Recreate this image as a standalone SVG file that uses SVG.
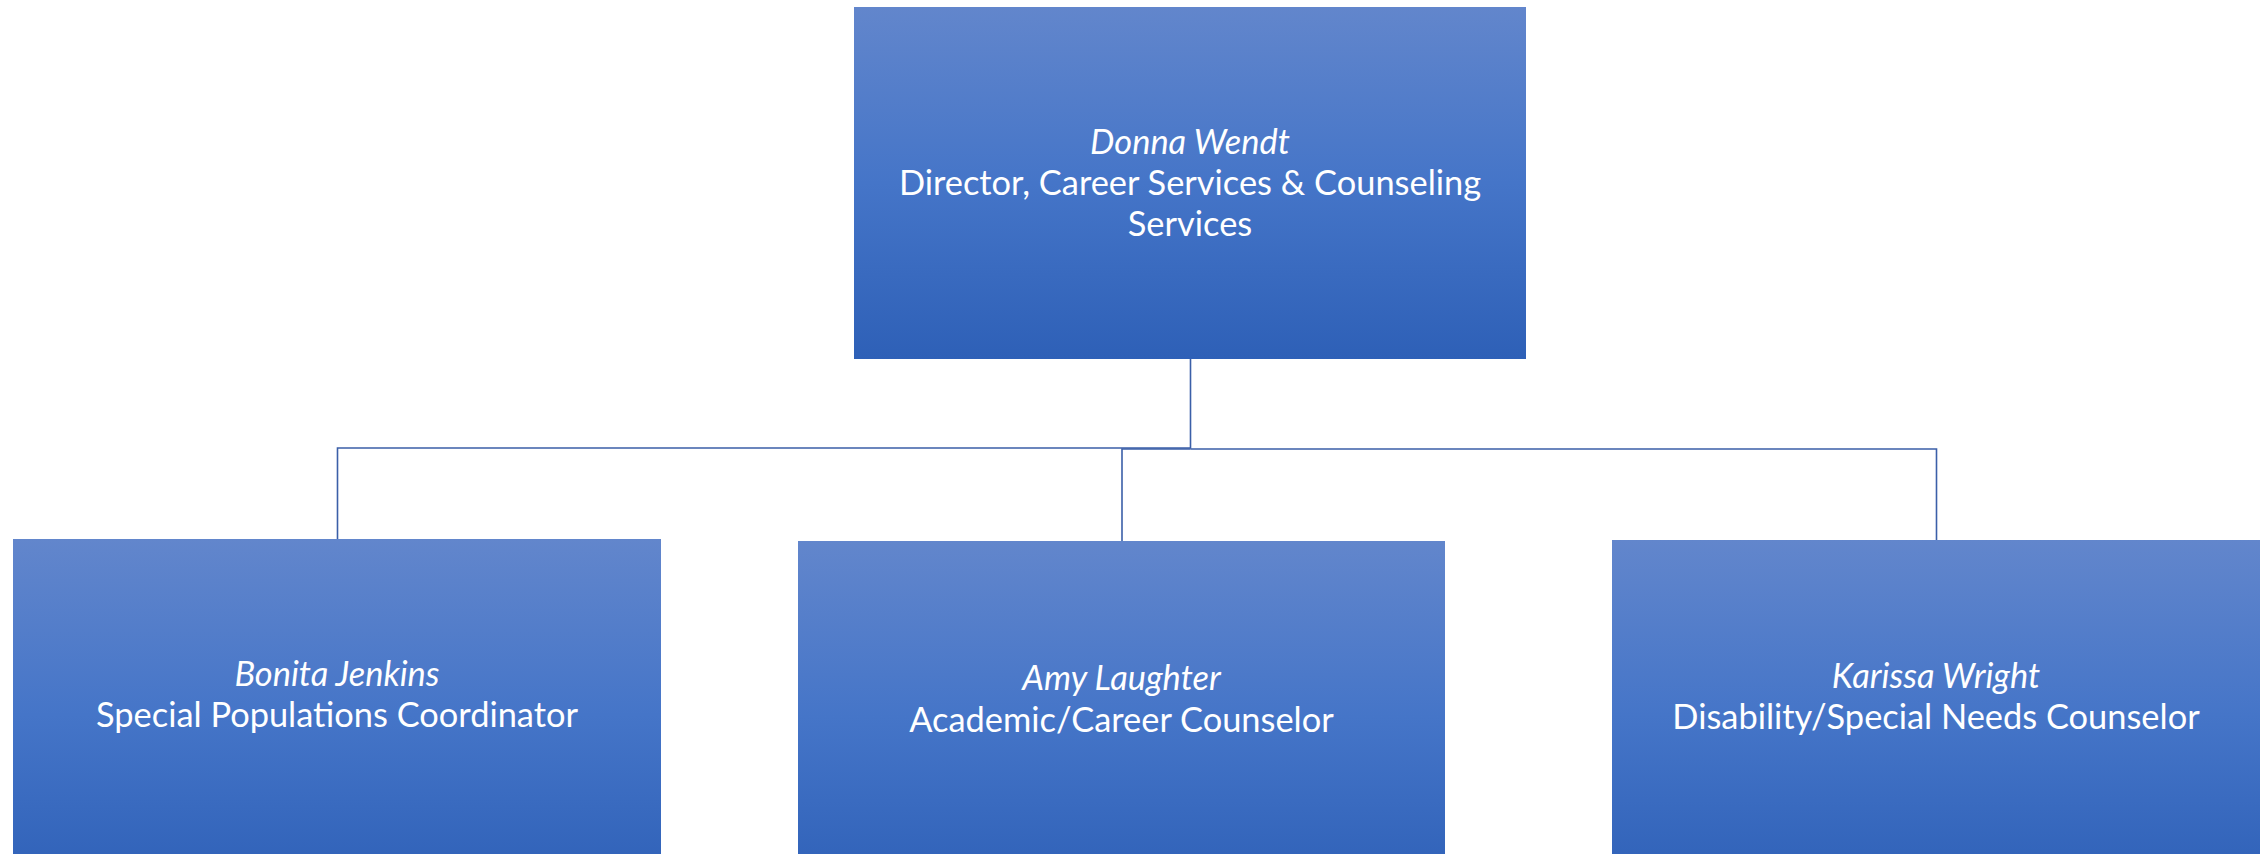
<svg xmlns="http://www.w3.org/2000/svg" width="2268" height="854" viewBox="0 0 2268 854">
  <defs>
    <linearGradient id="boxGrad" x1="0" y1="0" x2="0" y2="1">
      <stop offset="0" stop-color="#6286cc"/>
      <stop offset="0.5" stop-color="#4575c8"/>
      <stop offset="1" stop-color="#2e60b7"/>
    </linearGradient>
  </defs>
  <style>
    .box { fill: url(#boxGrad); }
    .conn { fill: none; stroke: #3b5fa8; stroke-width: 1.6; }
    text { font-family: "Lato", "Liberation Sans", sans-serif; fill: #ffffff; text-anchor: middle; font-size: 34.4px; }
    .name { font-style: italic; }
  </style>
  <rect width="2268" height="854" fill="#ffffff"/>
  <g id="connectors">
    <path class="conn" d="M1190.5 359 V448 H337.5 V539"/>
    <path class="conn" d="M1190.5 449 H1122 V541"/>
    <path class="conn" d="M1190.5 449 H1936.5 V540"/>
  </g>
  <g id="node-donna">
    <rect class="box" x="854" y="7" width="672" height="352"/>
    <text x="1190" y="154"><tspan class="name">Donna Wendt</tspan><tspan x="1190" y="195">Director, Career Services &amp; Counseling</tspan><tspan x="1190" y="236">Services</tspan></text>
  </g>
  <g id="node-bonita">
    <rect class="box" x="13" y="539" width="648" height="352"/>
    <text x="337" y="686"><tspan class="name">Bonita Jenkins</tspan><tspan x="337" y="727">Special Populations Coordinator</tspan></text>
  </g>
  <g id="node-amy">
    <rect class="box" x="798" y="541" width="647" height="352"/>
    <text x="1121.5" y="690"><tspan class="name">Amy Laughter</tspan><tspan x="1121.5" y="732">Academic/Career Counselor</tspan></text>
  </g>
  <g id="node-karissa">
    <rect class="box" x="1612" y="540" width="648" height="352"/>
    <text x="1936" y="688"><tspan class="name">Karissa Wright</tspan><tspan x="1936" y="729">Disability/Special Needs Counselor</tspan></text>
  </g>
</svg>
